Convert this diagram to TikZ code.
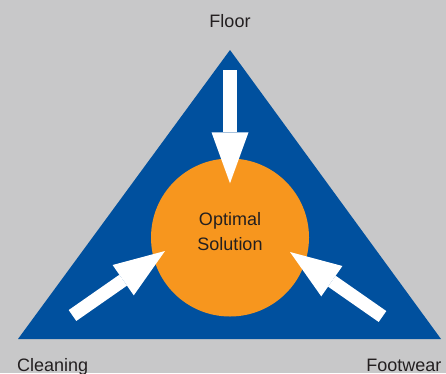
\documentclass[tikz,border=0pt]{standalone}
\usepackage{fontspec}
\setmainfont{Liberation Sans}
\usetikzlibrary{arrows.meta}
\definecolor{bggray}{RGB}{200,200,201}
\definecolor{triblue}{RGB}{0,80,158}
\definecolor{solorange}{RGB}{247,150,30}
\definecolor{txtgray}{RGB}{35,31,32}
\tikzset{bigarrow/.style={
    draw=white, line width=13.3pt,
    -{Triangle[length=51pt,width=37pt,line width=0pt]}
  },
  lbl/.style={text=txtgray, font=\fontsize{18}{25.5}\selectfont, inner sep=0pt}
}

\begin{document}
\begin{tikzpicture}[x=1pt,y=-1pt]
      \useasboundingbox (0,0) rectangle (446,373);
      \fill[bggray] (0,0) rectangle (446,373);
      % triangle
      \coordinate (apex) at (230,50);
      \coordinate (lcorner) at (18,339);
      \coordinate (rcorner) at (441,339);
      \fill[triblue] (apex) -- (lcorner) -- (rcorner) -- cycle;
      \node[circle, fill=solorange, minimum size=158pt, inner sep=0pt] (sol) at (230,237.5) {};
      \node[lbl, align=center] (soltext) at ([yshift=6pt]sol.center) {Optimal\\Solution};
      % arrows
      \coordinate (ftail) at (230,70);
      \coordinate (ftip) at (230,183.3);
      \coordinate (ctail) at (72.5,315.5);
      \coordinate (ctip) at (165,251);
      \coordinate (wtail) at (382.5,316.5);
      \coordinate (wtip) at (290,252);
      \draw[bigarrow] (ftail) -- (ftip);
      \draw[bigarrow] (ctail) -- (ctip);
      \draw[bigarrow] (wtail) -- (wtip);
      % labels
      \node[lbl, anchor=base] (floor) at (230,27.3) {Floor};
      \node[lbl, anchor=base west] (cleaning) at (17,371) {Cleaning};
      \node[lbl, anchor=base east] (footwear) at (441.5,371) {Footwear};
    \end{tikzpicture}
\end{document}
